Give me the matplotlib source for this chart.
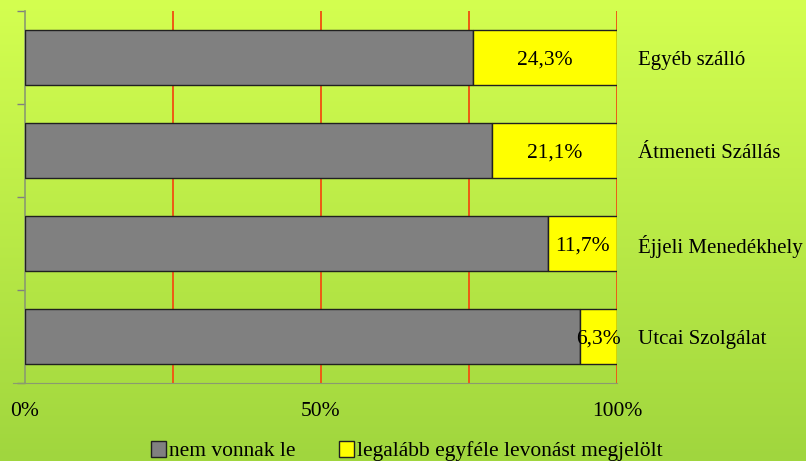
import numpy as np
import matplotlib.pyplot as plt
from matplotlib.patches import Patch

categories = ["Egyéb szálló", "Átmeneti Szállás", "Éjjeli Menedékhely", "Utcai Szolgálat"]
levonas = [24.3, 21.1, 11.7, 6.3]
nem_vonnak = [100 - v for v in levonas]
labels = ["24,3%", "21,1%", "11,7%", "6,3%"]
xticks = [0, 50, 100]
xticklabels = ["0%", "50%", "100%"]

plt.rcParams['font.family'] = ['Liberation Serif', 'DejaVu Serif']

fig = plt.figure(figsize=(8.06, 4.61), dpi=100)

# background gradient
bg = fig.add_axes([0, 0, 1, 1], zorder=-10)
top = np.array([212, 255, 80]) / 255
bottom = np.array([160, 214, 62]) / 255
t = np.linspace(0, 1, 256)[:, None]
grad = top * (1 - t) + bottom * t
bg.imshow(np.repeat(grad[:, None, :], 2, axis=1), aspect='auto', extent=[0, 1, 0, 1])
bg.axis('off')

W, H = 806, 461
ax = fig.add_axes([25 / W, (H - 383) / H, (617 - 25) / W, (383 - 11) / H])
ax.patch.set_alpha(0)

y = np.arange(len(categories))[::-1]
ax.barh(y, nem_vonnak, height=0.59, color='#808080', edgecolor='#202020', linewidth=1, zorder=3)
ax.barh(y, levonas, left=nem_vonnak, height=0.59, color='#FFFF00', edgecolor='#202020', linewidth=1, zorder=3)

for yi, cat, left, v, lab in zip(y, categories, nem_vonnak, levonas, labels):
    ax.text(left + v / 2, yi, lab, ha='center', va='center_baseline', fontsize=15.5, zorder=4)
    ax.text(103.5, yi, cat, ha='left', va='center_baseline', fontsize=15, clip_on=False)

ax.set_xlim(0, 100)
ax.set_ylim(-0.5, 3.5)
for gx in [25, 50, 75, 100]:
    ax.axvline(gx, color='#EE5A14', linewidth=1.4, zorder=1)

ax.set_xticks(xticks)
ax.set_xticklabels(xticklabels, fontsize=15.5)
ax.tick_params(axis='x', length=0, pad=14)
ax.set_yticks([-0.5, 0.5, 1.5, 2.5, 3.5])
ax.set_yticklabels([])
ax.tick_params(axis='y', length=6, color='#808080', width=1)

for s in ['top', 'right']:
    ax.spines[s].set_visible(False)
ax.spines['left'].set_color('#8a9a70')
ax.spines['bottom'].set_color('#8a9a70')
ax.spines['left'].set_linewidth(1.2)
ax.spines['bottom'].set_bounds(-2, 100)

handles = [Patch(facecolor='#808080', edgecolor='#202020', label='nem vonnak le'),
           Patch(facecolor='#FFFF00', edgecolor='#202020', label='legalább egyféle levonást megjelölt')]
fig.legend(handles=handles, loc='center', bbox_to_anchor=(407 / W, 1 - 451 / H), ncol=2,
           frameon=False, fontsize=15.5, handlelength=0.7, handleheight=0.8, handletextpad=0.15,
           columnspacing=2.0, borderpad=0)

fig.savefig('out.png', dpi=100)
